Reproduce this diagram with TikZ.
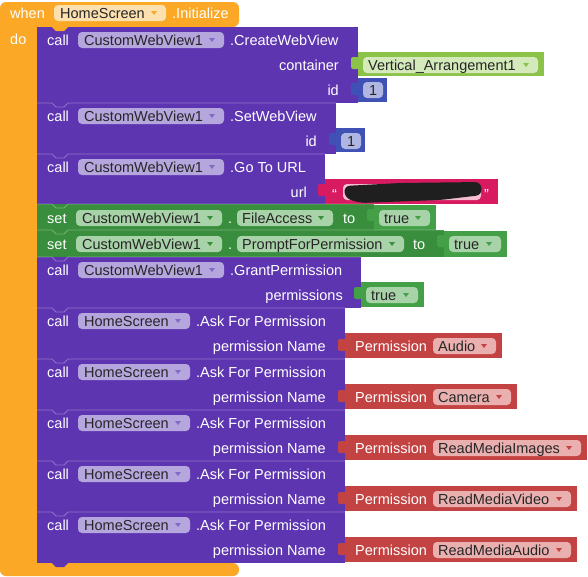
\documentclass[tikz,border=0pt]{standalone}
\usepackage{fontspec}
\setmainfont{Liberation Sans}
\usetikzlibrary{positioning}
\definecolor{evtorange}{RGB}{250,168,38}
\definecolor{fldorange}{RGB}{253,224,176}
\definecolor{callpurple}{RGB}{94,53,177}
\definecolor{fldpurple}{RGB}{182,166,222}
\definecolor{setgreen}{RGB}{56,142,60}
\definecolor{truegreen}{RGB}{67,160,71}
\definecolor{fldgreen}{RGB}{168,210,168}
\definecolor{limegreen}{RGB}{139,195,74}
\definecolor{fldlime}{RGB}{212,234,186}
\definecolor{numblue}{RGB}{63,81,181}
\definecolor{fldblue}{RGB}{176,182,226}
\definecolor{strpink}{RGB}{216,27,96}
\definecolor{fldpink}{RGB}{245,190,210}
\definecolor{permred}{RGB}{195,66,66}
\definecolor{fldred}{RGB}{234,176,176}
\newcommand{\blockfont}{\fontsize{14.5}{17}\selectfont}
\newcommand{\ddtri}[3]{\fill[#1] (#2-3,#3-7) -- (#2+3,#3-7) -- (#2,#3-3) -- cycle;}

\begin{document}
\begin{tikzpicture}[x=1pt, y=-1pt,
    every node/.style={inner sep=0pt, font=\blockfont},
    lbl/.style={anchor=base west, text=white},
    rlbl/.style={anchor=base east, text=white},
    fldtext/.style={anchor=base west, text=black!85},
    seam/.style={draw=white, opacity=0.3, line width=0.8pt}]

    \useasboundingbox (0,0) rectangle (588,576);
    \fill[white] (0,0) rectangle (588,576);

    % Event block
    \fill[evtorange, rounded corners=6] (0,2) -- (239,2) -- (239,27) -- (37,27) -- (37,563) -- (239,563) -- (239,576) -- (0,576) -- cycle;
    \node[lbl] (when) at (10,18) {when};
    \fill[fldorange, rounded corners=4] (54,5) rectangle (166,21);
    \node[fldtext] (screen) at (60,18) {HomeScreen};
    \ddtri{evtorange}{154}{18}
    \node[lbl] (init) at (172,18) {.Initialize};
    \node[lbl] (do) at (10,44) {do};

    % CreateWebView
    \fill[callpurple] (37,27) rectangle (358,103);
    \fill[evtorange] (52,27) -- (56,31) -- (64,31) -- (68,27) -- cycle;
    \node[lbl] (call1) at (47,45) {call};
    \fill[fldpurple, rounded corners=4] (78,32) rectangle (224,48);
    \node[fldtext] (cwv1) at (84,45) {CustomWebView1};
    \ddtri{callpurple!75}{212}{45}
    \node[lbl] (create) at (230,45) {.CreateWebView};
    \node[rlbl] (container) at (339,70) {container};
    \node[rlbl] (id1) at (339,95) {id};
    \fill[limegreen, rounded corners=2] (351,57) rectangle (359,69);
    \fill[limegreen] (358,52) rectangle (544,76);
    \fill[fldlime, rounded corners=4] (363,57) rectangle (538,73);
    \node[fldtext] (vert) at (368,70) {Vertical\_Arrangement1};
    \ddtri{limegreen}{526}{70}
    \fill[numblue, rounded corners=2] (351,83) rectangle (359,95);
    \fill[numblue] (358,78) rectangle (387,102);
    \fill[fldblue, rounded corners=4] (363,82) rectangle (383,98);
    \node[fldtext] (num1) at (369,95) {1};

    % SetWebView
    \fill[callpurple] (37,103) rectangle (336,154);
    \draw[seam] (37,103) -- (52,103) -- (56,107) -- (64,107) -- (68,103) -- (336,103);
    \node[lbl] (call2) at (47,121) {call};
    \fill[fldpurple, rounded corners=4] (78,108) rectangle (224,124);
    \node[fldtext] (cwv2) at (84,121) {CustomWebView1};
    \ddtri{callpurple!75}{212}{121}
    \node[lbl] (setwv) at (230,121) {.SetWebView};
    \node[rlbl] (id2) at (317,146) {id};
    \fill[numblue, rounded corners=2] (329,133) rectangle (337,145);
    \fill[numblue] (336,128) rectangle (365,152);
    \fill[fldblue, rounded corners=4] (341,133) rectangle (361,149);
    \node[fldtext] (num2) at (347,146) {1};

    % Go To URL
    \fill[callpurple] (37,154) rectangle (325,204);
    \draw[seam] (37,154) -- (52,154) -- (56,158) -- (64,158) -- (68,154) -- (325,154);
    \node[lbl] (call3) at (47,172) {call};
    \fill[fldpurple, rounded corners=4] (78,159) rectangle (224,175);
    \node[fldtext] (cwv3) at (84,172) {CustomWebView1};
    \ddtri{callpurple!75}{212}{172}
    \node[lbl] (gourl) at (230,172) {.Go To URL};
    \node[rlbl] (url) at (307,197) {url};
    \fill[strpink, rounded corners=2] (318,184) rectangle (326,196);
    \fill[strpink] (325,179) rectangle (498,204);
    \fill[fldpink, rounded corners=4] (343,184) rectangle (481,200);
    \fill[black!88, rounded corners=6] (344,186) -- (400,183) -- (481,182) -- (482,195) -- (440,200) -- (360,203) -- (345,198) -- cycle;
    \node[lbl] (qopen) at (332,199) {“};
    \node[lbl] (qclose) at (484,199) {”};

    % set FileAccess
    \fill[setgreen] (37,204) rectangle (374,230);
    \draw[seam] (37,204) -- (52,204) -- (56,208) -- (64,208) -- (68,204) -- (374,204);
    \node[lbl] (set1) at (47,223) {set};
    \fill[fldgreen, rounded corners=4] (76,210) rectangle (222,226);
    \node[fldtext] (cwv4) at (82,223) {CustomWebView1};
    \ddtri{setgreen}{210}{223}
    \node[lbl] (dot1) at (228,223) {.};
    \fill[fldgreen, rounded corners=4] (237,210) rectangle (333,226);
    \node[fldtext] (fileacc) at (242,223) {FileAccess};
    \ddtri{setgreen}{321}{223}
    \node[lbl] (to1) at (343,223) {to};
    \fill[truegreen, rounded corners=2] (367,209) rectangle (375,221);
    \fill[truegreen] (374,205) rectangle (436,230);
    \fill[fldgreen, rounded corners=4] (379,210) rectangle (430,226);
    \node[fldtext] (true1) at (384,223) {true};
    \ddtri{truegreen}{418}{223}

    % set PromptForPermission
    \fill[setgreen] (37,230) rectangle (444,257);
    \draw[seam] (37,230) -- (52,230) -- (56,234) -- (64,234) -- (68,230) -- (444,230);
    \node[lbl] (set2) at (47,249) {set};
    \fill[fldgreen, rounded corners=4] (76,236) rectangle (222,252);
    \node[fldtext] (cwv5) at (82,249) {CustomWebView1};
    \ddtri{setgreen}{210}{249}
    \node[lbl] (dot2) at (228,249) {.};
    \fill[fldgreen, rounded corners=4] (237,236) rectangle (404,252);
    \node[fldtext] (prompt) at (242,249) {PromptForPermission};
    \ddtri{setgreen}{392}{249}
    \node[lbl] (to2) at (413,249) {to};
    \fill[truegreen, rounded corners=2] (437,235) rectangle (445,247);
    \fill[truegreen] (444,231) rectangle (507,257);
    \fill[fldgreen, rounded corners=4] (449,236) rectangle (501,252);
    \node[fldtext] (true2) at (454,249) {true};
    \ddtri{truegreen}{489}{249}

    % GrantPermission
    \fill[callpurple] (37,257) rectangle (361,308);
    \draw[seam] (37,257) -- (52,257) -- (56,261) -- (64,261) -- (68,257) -- (361,257);
    \node[lbl] (call6) at (47,275) {call};
    \fill[fldpurple, rounded corners=4] (78,262) rectangle (224,278);
    \node[fldtext] (cwv6) at (84,275) {CustomWebView1};
    \ddtri{callpurple!75}{212}{275}
    \node[lbl] (grant) at (230,275) {.GrantPermission};
    \node[rlbl] (perms) at (343,300) {permissions};
    \fill[truegreen, rounded corners=2] (354,287) rectangle (362,299);
    \fill[truegreen] (361,282) rectangle (424,307);
    \fill[fldgreen, rounded corners=4] (366,287) rectangle (418,303);
    \node[fldtext] (true3) at (371,300) {true};
    \ddtri{truegreen}{406}{300}

    % Ask For Permission
    \foreach \i/\perm/\rx in {0/Audio/502, 1/Camera/517, 2/ReadMediaImages/587, 3/ReadMediaVideo/577, 4/ReadMediaAudio/577}
    {
        \pgfmathsetmacro{\ty}{308+51*\i}
        \pgfmathsetmacro{\ba}{\ty+18}
        \pgfmathsetmacro{\bb}{\ty+43}
        \fill[callpurple] (37,\ty) rectangle (345,\ty+51);
        \draw[seam] (37,\ty) -- (52,\ty) -- (56,\ty+4) -- (64,\ty+4) -- (68,\ty) -- (345,\ty);
        \node[lbl] (askcall\i) at (47,\ba) {call};
        \fill[fldpurple, rounded corners=4] (78,\ba-13) rectangle (190,\ba+3);
        \node[fldtext] (askscreen\i) at (84,\ba) {HomeScreen};
        \ddtri{callpurple!75}{178}{\ba}
        \node[lbl] (askmethod\i) at (196,\ba) {.Ask For Permission};
        \node[rlbl] (askname\i) at (326,\bb) {permission Name};
        \fill[permred, rounded corners=2] (338,\ty+31) rectangle (346,\ty+43);
        \fill[permred] (345,\ty+25) rectangle (\rx,\ty+50);
        \node[lbl] (askperm\i) at (355,\bb) {Permission};
        \fill[fldred, rounded corners=4] (433,\bb-13) rectangle (\rx-6,\bb+3);
        \node[fldtext] (askval\i) at (438,\bb) {\perm};
        \ddtri{permred}{\rx-18}{\bb}
    }
    \fill[callpurple] (52,563) -- (56,567) -- (64,567) -- (68,563) -- cycle;

\end{tikzpicture}
\end{document}
